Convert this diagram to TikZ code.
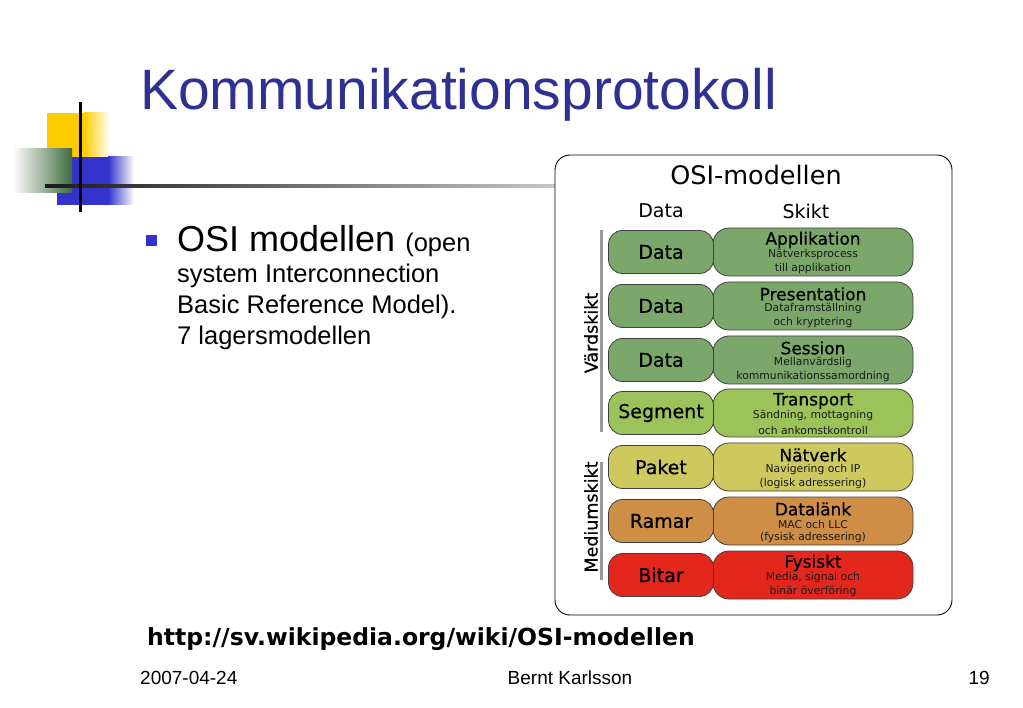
\documentclass[tikz,border=0pt]{standalone}
\usepackage{fontspec}
\setmainfont{Liberation Sans}
\newfontfamily\osifont{DejaVu Sans}
\newfontfamily\osiheavy[FakeBold=0.6]{DejaVu Sans}
\usetikzlibrary{positioning}

\definecolor{titleblue}{HTML}{2E3192}
\definecolor{logoyellow}{HTML}{FFCC00}
\definecolor{logoblue}{HTML}{3333CC}
\definecolor{logogreen}{HTML}{3F6B3F}
\definecolor{hostgreen}{HTML}{7BA86A}
\definecolor{transgreen}{HTML}{9CC35A}
\definecolor{netyellow}{HTML}{CEC95E}
\definecolor{linkorange}{HTML}{CE8E45}
\definecolor{physred}{HTML}{E4271D}

\newcommand{\fs}[1]{\fontsize{#1}{#1}\selectfont}

\tikzset{
  datapill/.style={draw=black!75, line width=0.8pt, rounded corners=14pt,
    minimum width=105pt, minimum height=43pt, inner sep=0pt, font=\osiheavy\fs{19}},
  layerpill/.style={draw=black!75, line width=0.8pt, rounded corners=16pt,
    minimum width=200pt, minimum height=48pt, inner sep=0pt},
  layertitle/.style={inner sep=0pt, font=\osiheavy\fs{17}},
  layerinfo/.style={inner sep=0pt, text=black!90, font=\osifont\fs{10.8}},
}

\begin{document}
\begin{tikzpicture}[x=1pt,y=-1pt]
\useasboundingbox (0,0) rectangle (1023,708);

% Logo
\fill[logoyellow] (47,113) rectangle (84,157);
\shade[left color=logoyellow, right color=white] (84,113) rectangle (110,157);
\fill[logoblue] (57,157) rectangle (108,205);
\shade[left color=logoblue, right color=white] (108,157) rectangle (134,205);
\shade[left color=white, right color=logogreen] (13,149) rectangle (72,193);
\shade[left color=black!90, right color=black!22] (45,184.5) rectangle (555,187.5);
\draw[line width=3pt] (80,102) -- (80,212);

% Title
\node[anchor=base west, inner sep=0pt, text=titleblue, font=\fs{57}] (title) at (140,110) {Kommunikationsprotokoll};

% Bullet text
\fill[logoblue] (146,235) rectangle (157,246);
\node[anchor=base west, inner sep=0pt] (osi) at (177,252) {\fs{36}OSI modellen \fs{25.5}(open};
\node[anchor=base west, inner sep=0pt, font=\fs{25.5}] (osiB) at (177,283) {system Interconnection};
\node[anchor=base west, inner sep=0pt, font=\fs{25.5}] (osiC) at (177,314) {Basic Reference Model).};
\node[anchor=base west, inner sep=0pt, font=\fs{25.5}] (osiD) at (177,345) {7 lagersmodellen};

% OSI-modellen
\draw[line width=0.9pt, rounded corners=15pt] (555,155) rectangle (952,615);
\node[font=\osifont\fs{25.5}] (head) at (756,175) {OSI-modellen};
\node[font=\osifont\fs{19}] (headData) at (661,211) {Data};
\node[font=\osifont\fs{19}] (headLayer) at (806,211) {Skikt};

\foreach \n/\y/\col/\data/\name/\lineA/\lineB in {
  1/252/hostgreen/Data/Applikation/Nätverksprocess/till applikation,
  2/306/hostgreen/Data/Presentation/Dataframställning/och kryptering,
  3/360/hostgreen/Data/Session/Mellanvärdslig/kommunikationssamordning,
  4/413/transgreen/Segment/Transport/{Sändning, mottagning}/och ankomstkontroll,
  5/467/netyellow/Paket/Nätverk/Navigering och IP/(logisk adressering),
  6/521/linkorange/Ramar/Datalänk/MAC och LLC/(fysisk adressering),
  7/575/physred/Bitar/Fysiskt/{Media, signal och}/binär överföring}{
  \node[layerpill, fill=\col] (layer\n) at (813,\y) {};
  \node[datapill, fill=\col] (data\n) at (661,\y) {\data};
  \node[layertitle] (title\n) at (813,\y-12) {\name};
  \node[layerinfo] (infoA\n) at (813,\y+3) {\lineA};
  \node[layerinfo] (infoB\n) at (813,\y+17) {\lineB};
}

\draw[line width=3pt, black!40] (601,230) -- (601,432);
\draw[line width=3pt, black!40] (601,462) -- (601,580);
\node[rotate=90, font=\osiheavy\fs{17.5}] (host) at (591,333) {Värdskikt};
\node[rotate=90, font=\osiheavy\fs{17.5}] (medium) at (591,517) {Mediumskikt};

% Footer
\node[anchor=base west, inner sep=0pt, font=\osifont\bfseries\fs{23.5}] (url) at (147,645) {http://sv.wikipedia.org/wiki/OSI-modellen};
\node[anchor=base west, inner sep=0pt, font=\fs{19}] (date) at (140,684) {2007-04-24};
\node[anchor=base, inner sep=0pt, font=\fs{19}] (author) at (570,684) {Bernt Karlsson};
\node[anchor=base east, inner sep=0pt, font=\fs{19}] (page) at (990,684) {19};

\end{tikzpicture}
\end{document}
